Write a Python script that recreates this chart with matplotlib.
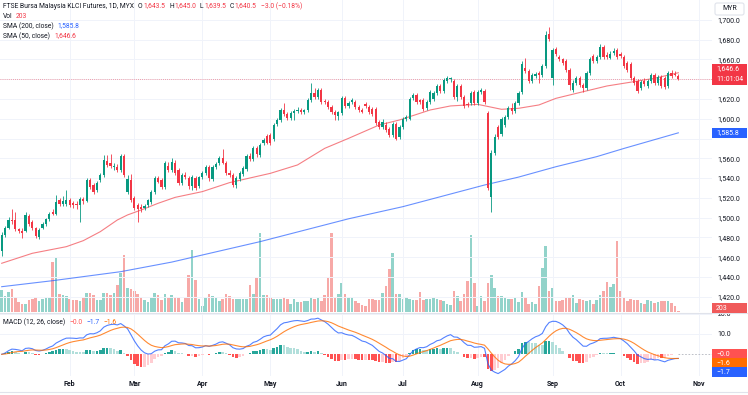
import numpy as np
import pandas as pd
import matplotlib.pyplot as plt
from matplotlib.patches import Rectangle, FancyBboxPatch
from matplotlib.lines import Line2D
from matplotlib.transforms import IdentityTransform

plt.rcParams['font.family'] = ['Roboto', 'DejaVu Sans']

# Bursa Malaysia holidays (no bars on these days)
holidays = ["2024-01-25", "2024-02-01", "2024-02-12", "2024-03-28", "2024-04-10",
            "2024-04-11", "2024-05-01", "2024-05-22", "2024-06-03", "2024-06-17",
            "2024-07-08", "2024-09-16"]

# daily OHLC (Jan 3 - Oct 24, 2024)
opens = [1466, 1482, 1490, 1498, 1498, 1488, 1486, 1486, 1502, 1496, 1489, 1480, 1490, 1494, 1499, 1506, 1504,
         1518, 1514, 1514, 1518, 1515, 1514, 1513, 1519, 1517, 1538, 1533, 1528, 1538, 1543, 1557, 1555, 1551,
         1551, 1548, 1562, 1526, 1538, 1520, 1513, 1511, 1510, 1513, 1516, 1526, 1540, 1538, 1531, 1552, 1548,
         1555, 1548, 1535, 1543, 1540, 1532, 1540, 1532, 1541, 1545, 1551, 1539, 1551, 1555, 1560, 1555, 1545,
         1543, 1533, 1539, 1544, 1549, 1562, 1559, 1570, 1563, 1575, 1583, 1584, 1580, 1595, 1599, 1609, 1605,
         1601, 1606, 1608, 1609, 1607, 1609, 1619, 1626, 1622, 1629, 1618, 1617, 1612, 1607, 1603, 1606, 1621,
         1613,
         1617, 1617, 1612, 1609, 1615, 1612, 1610, 1610, 1597, 1592, 1594, 1590, 1584, 1595, 1582, 1592, 1600,
         1600, 1621, 1624, 1619, 1619, 1611, 1617, 1620, 1626, 1633, 1628, 1638, 1640, 1638, 1622, 1633, 1622,
         1615, 1616, 1627, 1616, 1627, 1628, 1606, 1521, 1565, 1592, 1585, 1594, 1602, 1611, 1608, 1616, 1627,
         1651, 1648, 1638, 1643, 1646, 1644, 1653, 1686, 1641, 1671, 1663, 1660, 1658, 1649, 1629, 1636, 1641,
         1634, 1631, 1646, 1664, 1658, 1663, 1673, 1665, 1662, 1667, 1670, 1666, 1663, 1656, 1655, 1641, 1638,
         1631, 1638, 1633, 1638, 1644, 1636, 1642, 1641, 1633, 1646, 1645, 1643.5]
highs = [1485, 1492, 1501, 1509, 1506, 1490, 1489, 1506, 1504, 1498, 1491, 1489, 1496, 1500, 1506, 1509, 1523,
         1520, 1522, 1528, 1520, 1517, 1517, 1521, 1521, 1540, 1540, 1535, 1537, 1545, 1563, 1563, 1564, 1555,
         1554, 1564, 1564, 1543, 1544, 1522, 1515, 1514, 1514, 1519, 1528, 1542, 1542, 1540, 1557, 1556, 1560,
         1558, 1550, 1545, 1546, 1542, 1543, 1542, 1542, 1547, 1553, 1553, 1553, 1556, 1562, 1569, 1557, 1548,
         1545, 1542, 1547, 1552, 1564, 1565, 1572, 1572, 1575, 1581, 1585, 1586, 1596, 1601, 1611, 1616, 1607,
         1608, 1610, 1612, 1611, 1610, 1621, 1636, 1631, 1631, 1631, 1620, 1619, 1614, 1609, 1608, 1623, 1623,
         1618,
         1621, 1619, 1614, 1611, 1617, 1614, 1612, 1612, 1599, 1600, 1597, 1592, 1597, 1597, 1594, 1602, 1604,
         1622, 1626, 1626, 1620, 1621, 1619, 1629, 1628, 1635, 1635, 1641, 1643, 1642, 1640, 1635, 1635, 1624,
         1617, 1628, 1629, 1629, 1631, 1630, 1608, 1568, 1585, 1594, 1602, 1604, 1613, 1616, 1618, 1628, 1658,
         1662, 1650, 1646, 1647, 1648, 1655, 1689, 1693, 1672, 1673, 1665, 1662, 1660, 1651, 1639, 1643, 1643,
         1636, 1648, 1663, 1666, 1665, 1676, 1675, 1668, 1669, 1672, 1672, 1668, 1665, 1658, 1657, 1643, 1640,
         1639, 1641, 1640, 1646, 1646, 1644, 1644, 1643, 1648, 1649, 1648, 1645]
lows = [1461, 1480, 1488, 1494, 1486, 1484, 1479, 1485, 1492, 1487, 1479, 1478, 1488, 1492, 1497, 1503, 1503,
        1512, 1512, 1512, 1511, 1510, 1509, 1496, 1514, 1516, 1529, 1524, 1526, 1536, 1541, 1551, 1550, 1548,
        1546, 1546, 1541, 1524, 1516, 1508, 1496, 1506, 1508, 1511, 1514, 1524, 1535, 1529, 1529, 1546, 1546,
        1543, 1533, 1533, 1539, 1529, 1528, 1528, 1530, 1539, 1543, 1537, 1537, 1549, 1553, 1554, 1543, 1541,
        1531, 1530, 1537, 1542, 1547, 1557, 1557, 1561, 1561, 1573, 1574, 1573, 1578, 1593, 1597, 1603, 1599,
        1599, 1599, 1606, 1605, 1605, 1607, 1617, 1620, 1620, 1615, 1615, 1610, 1605, 1599, 1599, 1604, 1611,
        1611,
        1615, 1610, 1607, 1606, 1611, 1605, 1603, 1594, 1590, 1590, 1587, 1582, 1582, 1579, 1580, 1590, 1598,
        1599, 1619, 1615, 1615, 1608, 1609, 1615, 1618, 1624, 1626, 1626, 1636, 1637, 1620, 1618, 1620, 1611,
        1612, 1614, 1614, 1614, 1625, 1615, 1528, 1506, 1563, 1580, 1583, 1592, 1600, 1605, 1606, 1614, 1625,
        1646, 1636, 1636, 1641, 1636, 1642, 1651, 1679, 1634, 1664, 1658, 1654, 1647, 1629, 1627, 1634, 1632,
        1627, 1629, 1644, 1656, 1656, 1661, 1661, 1660, 1660, 1665, 1661, 1662, 1651, 1647, 1639, 1634, 1626,
        1629, 1633, 1631, 1636, 1634, 1634, 1631, 1630, 1631, 1641, 1643, 1639.5]
closes = [1482, 1490, 1498, 1497, 1488, 1486, 1484, 1503, 1494, 1489, 1481, 1487, 1494, 1499, 1504, 1504, 1516,
          1514, 1517, 1518, 1513, 1513, 1513, 1519, 1517, 1538, 1531, 1526, 1535, 1543, 1558, 1553, 1552, 1552,
          1548, 1562, 1543, 1539, 1518, 1510, 1509, 1509, 1512, 1518, 1526, 1540, 1536, 1531, 1555, 1548, 1556,
          1545, 1535, 1543, 1541, 1532, 1541, 1530, 1541, 1545, 1551, 1540, 1551, 1554, 1560, 1555, 1545, 1543,
          1533, 1540, 1545, 1550, 1562, 1559, 1570, 1564, 1573, 1579, 1576, 1575, 1594, 1599, 1609, 1605, 1601,
          1606, 1608, 1609, 1607, 1609, 1619, 1626, 1622, 1629, 1617, 1617, 1612, 1607, 1604, 1607, 1621, 1613,
          1616,
          1619, 1612, 1609, 1607, 1613, 1607, 1605, 1596, 1592, 1597, 1589, 1584, 1595, 1580, 1592, 1600, 1602,
          1620, 1624, 1617, 1617, 1610, 1617, 1627, 1626, 1633, 1628, 1639, 1641, 1641, 1622, 1633, 1622, 1613,
          1614, 1626, 1616, 1627, 1629, 1617, 1530, 1565, 1582, 1582, 1600, 1602, 1611, 1608, 1616, 1626, 1655,
          1648, 1638, 1644, 1645, 1644, 1653, 1685, 1681, 1670, 1666, 1660, 1656, 1649, 1634, 1636, 1641, 1634,
          1631, 1646, 1661, 1658, 1663, 1673, 1663, 1663, 1666, 1669, 1663, 1664, 1653, 1649, 1641, 1636, 1628,
          1637, 1635, 1638, 1644, 1636, 1642, 1633, 1632, 1646, 1643, 1644, 1640.5]
volumes = [3300, 2400, 3000, 3450, 2250, 1500, 1200, 1200, 1800, 1950, 2250, 1650, 1950, 2100, 2100, 7500, 8100,
           2700, 2550, 2400, 1950, 1800, 1800, 1650, 2250, 2850, 2850, 2550, 1800, 1800, 2850, 2850, 2550, 2850,
           4050, 5850, 8550, 3600, 3450, 3150, 2700, 2250, 1800, 1500, 2100, 2850, 2550, 1800, 2700, 2100, 2550,
           2250, 2100, 1500, 2100, 5550, 9300, 4800, 1950, 900, 2100, 2700, 2400, 2100, 1650, 1950, 2700, 2400,
           1950, 1950, 1950, 1950, 1950, 4050, 2700, 5100, 11850, 2550, 2550, 2250, 1950, 1950, 1950, 2250, 1950,
           1200, 1950, 1500, 1500, 1650, 1650, 2100, 1950, 2100, 1650, 2550, 5100, 11850, 2100, 2700, 4350, 2700,
           2250,
           2250, 1650, 1350, 1050, 900, 1950, 1950, 1800, 1800, 2850, 3900, 6450, 8850, 2700, 2700, 1950, 2250,
           1950, 1800, 1800, 3000, 1800, 1950, 1950, 2100, 1950, 1800, 1650, 1200, 1050, 3150, 2400, 1650, 2700,
           4650, 11550, 4350, 900, 2400, 1650, 4350, 5550, 3600, 2400, 2400, 2100, 1950, 1950, 2100, 1500, 3000,
           2250, 1200, 1500, 1200, 3900, 6600, 9900, 3150, 3600, 1650, 1650, 1800, 2100, 2100, 2550, 1350, 1950,
           1800, 1650, 1800, 1200, 1800, 2550, 3150, 4500, 3750, 4200, 10650, 3150, 2100, 1650, 1950, 1800, 1800,
           1350, 1200, 1800, 1650, 1350, 1500, 1650, 1650, 1650, 1350, 900, 203]

# moving averages (bar number, value)
sma50_bar = [0, 9, 19, 24, 29, 34, 37, 41, 46, 51, 59, 67, 79, 87, 91, 95, 102, 111, 117, 126, 132, 140, 147,
             152, 158, 163, 171, 178, 184, 192, 199]
sma50_val = [1453.8, 1463.9, 1470.6, 1476.7, 1485.8, 1497.6, 1502.7, 1507.7, 1514.5, 1520.5, 1526.3, 1535.4,
             1544.8, 1553.3, 1561.7, 1570.1, 1580.2, 1593.7, 1598.8, 1608.9, 1613.0, 1614.6, 1609.6, 1610.6,
             1614.0, 1620.7, 1627.4, 1633.2, 1636.5, 1641.0, 1646.6]
sma200_bar = [0, 15, 35, 50, 76, 102, 118, 142, 152, 163, 175, 183, 199]
sma200_val = [1430.1, 1436.2, 1445.3, 1455.0, 1475.7, 1498.8, 1511.1, 1533.0, 1541.0, 1551.5, 1561.7, 1570.0,
              1585.8]

price_ticks = list(range(1420, 1701, 20))
macd_ticks = [10, 20]

GREEN, RED = '#089981', '#f23645'
DARK, GRID = '#131722', '#f0f3fa'
W, H = 748, 395

# trading calendar
dates = pd.bdate_range('2024-01-03', '2024-10-24')
dates = dates[~dates.isin(pd.to_datetime(holidays))]
future = pd.bdate_range('2024-10-25', '2024-11-29')
all_dates = dates.append(future)
n = len(closes)
x = np.arange(n)

month_idx, month_lab = [], []
for i in range(1, len(all_dates)):
    if all_dates[i].month != all_dates[i - 1].month:
        month_idx.append(i)
        month_lab.append(all_dates[i].strftime('%b'))

O, Hh, L, C = map(np.array, (opens, highs, lows, closes))
up = C >= O
cols = np.where(up, GREEN, RED)

# MACD(12, 26, close) from the closes
cs = pd.Series(closes, dtype=float)
macd = cs.ewm(span=12, adjust=False).mean() - cs.ewm(span=26, adjust=False).mean()
signal = macd.ewm(span=9, adjust=False).mean()
hist = (macd - signal).values
prev = np.r_[hist[0], hist[:-1]]
hcols = np.where(hist >= 0, np.where(hist > prev, '#26a69a', '#b2dfdb'),
                 np.where(hist > prev, '#ffcdd2', '#ff5252'))


def px_rect(l, t, r, b):
    return [l / W, 1 - b / H, (r - l) / W, (b - t) / H]


fig = plt.figure(figsize=(W / 100, H / 100), dpi=100, facecolor='white')
ax = fig.add_axes(px_rect(0, 0, 712, 312))
axm = fig.add_axes(px_rect(0, 313, 712, 376))
axv = ax.twinx()

xmax = 208.9
for a in (ax, axm):
    a.set_xlim(-0.5, xmax)
    for s in a.spines.values():
        s.set_visible(False)
    a.set_xticks(month_idx)
    a.grid(True, color=GRID, lw=0.7)
    a.set_axisbelow(True)
    a.yaxis.tick_right()
    a.tick_params(length=0, labelsize=5, labelcolor=DARK, pad=4)

# tick labels hidden behind the value boxes on the price scale
covered = [closes[-1], sma200_val[-1]]
ax.set_ylim(1404.5, 1720.2)
ax.set_yticks(price_ticks)
ax.set_yticklabels(['' if min(abs(v - c) for c in covered) < 8 else f'{v:,.1f}' for v in price_ticks])
ax.tick_params(axis='x', labelbottom=False)

# volume overlay
axv.set_ylim(0, 46800)
axv.bar(x, volumes, width=0.78, color=np.where(up, '#92d3ca', '#f7a9a7'), linewidth=0)
axv.axis('off')
ax.set_zorder(axv.get_zorder() + 1)
ax.patch.set_visible(False)

# candles
ax.vlines(x, L, Hh, colors=cols, lw=0.6, zorder=3)
ax.bar(x, np.maximum(np.abs(C - O), 0.7), bottom=np.minimum(O, C), width=0.68,
       color=cols, linewidth=0, zorder=4)

ax.plot(sma50_bar, sma50_val, color='#f2545b', lw=0.8, alpha=0.75, zorder=2)
ax.plot(sma200_bar, sma200_val, color='#2962ff', lw=0.8, alpha=0.7, zorder=2)
ax.axhline(closes[-1], color=RED, lw=0.6, ls=(0, (1, 1.5)), alpha=0.6, zorder=1)

# MACD pane
axm.set_ylim(-10.69, 20.34)
axm.set_yticks(macd_ticks)
axm.set_yticklabels([f'{v:.1f}' for v in macd_ticks])
axm.bar(x, hist, width=0.75, color=hcols, linewidth=0, zorder=2)
axm.plot(x, macd, color='#2962ff', lw=0.8, alpha=0.8, zorder=3)
axm.plot(x, signal, color='#ff6d00', lw=0.8, alpha=0.8, zorder=3)
axm.hlines(0, n - 1, xmax, colors='#b2b5be', lw=0.6, linestyles=(0, (2, 2)))
axm.set_xticklabels(month_lab, fontsize=5, fontweight='bold', color=DARK)
axm.tick_params(axis='x', pad=3)

# separators
for yy in (312.5, 391.5):
    fig.add_artist(Line2D([0, 1], [1 - yy / H] * 2, color='#e0e3eb', lw=0.8))

renderer = fig.canvas.get_renderer()


def put_row(x0, y0, parts):
    xx = x0
    for s, c, gap in parts:
        t = fig.text(xx / W, 1 - y0 / H, s, color=c, fontsize=4.9, va='center', ha='left')
        xx += t.get_window_extent(renderer).width + gap


put_row(3, 6, [('FTSE Bursa Malaysia KLCI Futures, 1D, MYX', DARK, 4), ('O', DARK, 0.5), ('1,643.5', RED, 4),
               ('H', DARK, 0.5), ('1,645.0', RED, 4), ('L', DARK, 0.5), ('1,639.5', RED, 4),
               ('C', DARK, 0.5), ('1,640.5', RED, 4), ('−3.0 (−0.18%)', RED, 0)])
put_row(3, 16, [('Vol', DARK, 3), ('203', RED, 0)])
put_row(3, 26, [('SMA (200, close)', DARK, 4), ('1,585.8', '#2962ff', 0)])
put_row(3, 36, [('SMA (50, close)', DARK, 4), ('1,646.6', RED, 0)])
put_row(3, 322, [('MACD (12, 26, close)', DARK, 4), ('−0.0', '#ff5252', 4), ('−1.7', '#2962ff', 4),
                 ('−1.6', '#ff6d00', 0)])


def scale_label(axis, yval, lines, fc, dy=0, h=10):
    yd = axis.transData.transform((0, yval))[1] + dy
    fig.add_artist(Rectangle((712, yd - h / 2), 35, h, transform=IdentityTransform(),
                             fc=fc, ec='none', zorder=5))
    step = h / len(lines)
    for k, s in enumerate(lines):
        yc = yd + h / 2 - step * (k + 0.5)
        fig.text(716 / W, yc / H, s, color='white', fontsize=5, va='center', ha='left', zorder=6)


scale_label(ax, closes[-1], ['1,646.6', '11:01:04'], RED, dy=4.5, h=21)
scale_label(ax, sma200_val[-1], ['1,585.8'], '#2962ff')
scale_label(axv, volumes[-1], ['203'], '#f05a5a', dy=2.6)
scale_label(axm, 0, ['−0.0'], '#ff5252')
scale_label(axm, 0, ['−1.6'], '#ff6d00', dy=-9)
scale_label(axm, 0, ['−1.7'], '#2962ff', dy=-18)

fig.add_artist(FancyBboxPatch((715, H - 15), 29, 12, boxstyle='round,pad=0,rounding_size=2',
                              transform=IdentityTransform(), fc='white', ec='#e0e3eb', lw=0.8))
fig.text(729.5 / W, 1 - 9 / H, 'MYR', color=DARK, fontsize=5, ha='center', va='center')

fig.savefig('out.png', dpi=100, facecolor='white')
